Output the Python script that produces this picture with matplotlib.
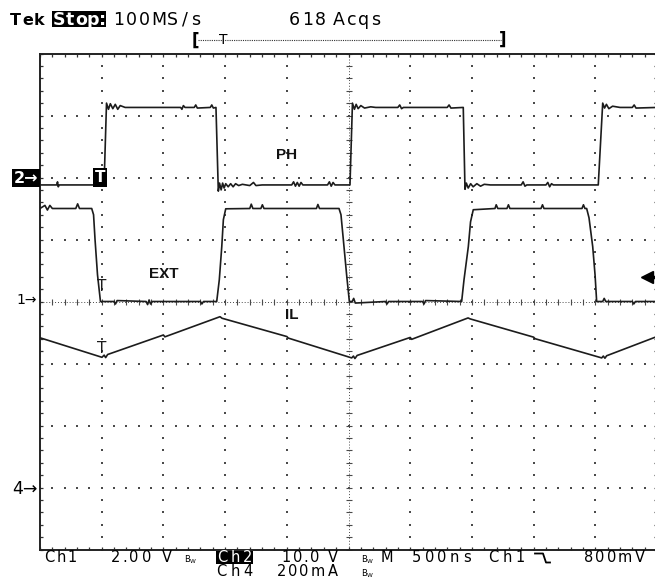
import numpy as np
import matplotlib
matplotlib.use("Agg")
import matplotlib.pyplot as plt
from matplotlib import font_manager
from matplotlib.ft2font import FT2Font
from matplotlib.lines import Line2D
from matplotlib.patches import Rectangle

W, H = 655, 586

# horizontal: 500 ns/div, 10 divisions; vertical: 8 divisions
TIME_PER_DIV = 500
CH1_SCALE, CH1_POS = 2.0, 0.0     # EXT, V/div, ground marker (div)
CH2_SCALE, CH2_POS = 10.0, 2.0    # PH
CH4_SCALE, CH4_POS = 0.2, -3.0    # IL, A/div
TRIG_TIME = 484                   # ns from left edge of screen
TRIG_LEVEL = 0.8                  # V on Ch1

# switch node (Ch2)
ph_t = [0, 135, 142, 148, 156, 519, 539, 555, 570, 590, 610, 630, 650, 690,
        1140, 1150, 1162, 1175, 1250, 1262, 1275, 1380, 1392, 1405, 1426,
        1445, 1455, 1468, 1480, 1492, 1505, 1525, 1545, 1565, 1585, 1610, 1640,
        1700, 1730, 1750, 1800, 2040, 2055, 2070, 2085, 2100, 2115, 2130,
        2330, 2345, 2360, 2375, 2390, 2512,
        2532, 2548, 2562, 2578, 2600, 2630, 2680, 2720, 2900, 2915, 2930, 2945,
        3300, 3315, 3330, 3430,
        3444, 3455, 3470, 3490, 3510, 3540, 3570, 3600, 3650, 3900, 3915, 3930,
        3945, 4100, 4115, 4130, 4145, 4160, 4524,
        4560, 4575, 4590, 4610, 4640, 4700, 4800, 4815, 4830, 5000]
ph_v = [-1.2, -1.2, -0.7, -1.5, -1.2, -1.2, 12.0, 11.0, 11.9, 11.1, 11.8, 11.0, 11.6, 11.3,
        11.3, 11.0, 11.6, 11.3, 11.3, 11.7, 11.2, 11.3, 11.7, 11.2, 11.3,
        -2.2, -0.9, -2.0, -0.9, -1.7, -1.0, -1.5, -1.0, -1.5, -1.0, -1.3, -1.1,
        -1.3, -0.8, -1.3, -1.2, -1.2, -0.7, -1.4, -0.8, -1.4, -0.8, -1.2,
        -1.2, -0.7, -1.4, -0.8, -1.2, -1.2,
        12.0, 11.0, 11.8, 11.1, 11.6, 11.2, 11.4, 11.3, 11.3, 11.7, 11.1, 11.3,
        11.3, 11.7, 11.2, 11.3,
        -1.9, -0.9, -1.7, -1.0, -1.5, -1.0, -1.4, -1.1, -1.2, -1.2, -0.7, -1.4,
        -1.2, -1.2, -0.8, -1.5, -1.0, -1.2, -1.2,
        12.0, 11.2, 11.8, 11.1, 11.5, 11.3, 11.3, 11.7, 11.2, 11.3]

# external gate drive (Ch1)
ext_t = [0, 40, 60, 80, 100, 290, 305, 320, 419, 434, 446, 466, 490,
         600, 612, 625, 860, 872, 884, 896, 910, 1300, 1312, 1325,
         1432, 1453, 1473, 1486, 1505, 1700, 1712, 1725, 1790, 1802, 1815,
         2240, 2252, 2265, 2423, 2439, 2458, 2486, 2507,
         2530, 2542, 2555, 2800, 2812, 2825, 3100, 3112, 3125,
         3417, 3436, 3471, 3489, 3511, 3687, 3697, 3710, 3784, 3796, 3808,
         4060, 4072, 4084, 4392, 4404, 4416,
         4430, 4449, 4479, 4498, 4511, 4560, 4572, 4585, 4800, 4812, 4825, 5000]
ext_v = [3.0, 3.1, 2.95, 3.1, 3.0, 3.0, 3.15, 3.0, 3.0, 2.8, 2.0, 0.86, 0.0,
         0.0, -0.08, 0.03, 0.0, -0.1, 0.05, -0.08, 0.0, 0.0, -0.08, 0.0,
         0.0, 0.70, 1.77, 2.64, 2.99, 3.0, 3.14, 3.0, 3.0, 3.12, 3.0,
         3.0, 3.13, 3.0, 3.0, 2.8, 2.0, 0.81, 0.0,
         0.0, 0.1, -0.05, 0.0, -0.08, 0.0, 0.0, -0.08, 0.03,
         0.0, 0.70, 1.77, 2.57, 2.96, 3.0, 3.12, 3.0, 3.0, 3.12, 3.0,
         3.0, 3.12, 3.0, 3.0, 3.12, 3.0,
         3.0, 2.7, 1.77, 0.86, 0.0, 0.0, 0.1, 0.0, 0.0, -0.08, 0.0, 0.0]

# inductor current (Ch4)
il_t = [0, 502, 520, 532, 548, 1000, 1012, 1459, 1475, 2000, 2012,
        2526, 2540, 2552, 2570, 3000, 3012, 3469, 3485, 4000, 4012,
        4552, 4565, 4578, 4592, 5000]
il_a = [0.483, 0.420, 0.427, 0.419, 0.429, 0.492, 0.486, 0.551, 0.546, 0.487, 0.482,
        0.418, 0.424, 0.416, 0.426, 0.484, 0.478, 0.547, 0.544, 0.485, 0.480,
        0.418, 0.424, 0.417, 0.425, 0.487]

INK = "#1c1c1c"
GRID = "#4a4a4a"


def to_div(values, scale, pos):
    return pos + np.asarray(values) / scale


def fy(y):
    return 1 - y / H


fig = plt.figure(figsize=(W / 100, H / 100), dpi=100)
ax = fig.add_axes([40 / W, fy(549.5), 617 / W, 496 / H])
ax.set_xlim(0, 10 * TIME_PER_DIV)
ax.set_ylim(-4, 4)

for side in ax.spines.values():
    side.set_linewidth(1.4)
    side.set_color("#222222")

# graticule: tick marks every 0.2 div on the frame
minor_x = np.arange(0, 10.001, 0.2) * TIME_PER_DIV
minor_y = np.arange(-4, 4.001, 0.2)
ax.set_xticks(minor_x)
ax.set_yticks(minor_y)
ax.tick_params(direction="in", length=2.5, width=0.9, color="#333333",
               top=True, right=True, labelbottom=False, labelleft=False)

# dotted division lines
gx, gy = [], []
for d in range(1, 10):
    if d == 5:
        continue
    gx += [d * TIME_PER_DIV] * len(minor_y)
    gy += list(minor_y)
for d in range(-3, 4):
    if d == 0:
        continue
    gx += list(minor_x)
    gy += [d] * len(minor_x)
ax.scatter(gx, gy, s=1.8, marker="s", color=GRID, linewidths=0, zorder=1)

# centre cross with finer dots and tick marks
cx = 5 * TIME_PER_DIV
ax.axvline(cx, ls=(0, (1, 2)), lw=0.7, color=GRID, zorder=1)
ax.axhline(0, ls=(0, (1, 2)), lw=0.7, color=GRID, zorder=1)
ax.plot([cx] * len(minor_y), minor_y, ls="none", marker="_", ms=5, mew=0.8, color=GRID)
ax.plot(minor_x, [0] * len(minor_x), ls="none", marker="|", ms=5, mew=0.8, color=GRID)

# traces
ax.plot(ph_t, to_div(ph_v, CH2_SCALE, CH2_POS), color=INK, lw=1.2, zorder=3)
ax.plot(ext_t, to_div(ext_v, CH1_SCALE, CH1_POS), color=INK, lw=1.2, zorder=3)
ax.plot(il_t, to_div(il_a, CH4_SCALE, CH4_POS), color=INK, lw=1.2, zorder=3)

lbl = dict(family="Liberation Sans", weight="bold", fontsize=11, ha="center",
           va="center", color="#111111")
ax.text(2002, 2.36, "PH", **lbl)
ax.text(1005, 0.44, "EXT", **lbl)
ax.text(2040, -0.21, "IL", **lbl)

# trigger point on Ch2 and cursors on the other traces
ax.text(TRIG_TIME, CH2_POS, "T", color="white", fontsize=11, weight="bold",
        ha="center", va="center", zorder=4,
        bbox=dict(boxstyle="square,pad=0.12", fc="black", ec="none"))
ax.text(TRIG_TIME + 12, 0.237, "T", color=INK, fontsize=11, ha="center", va="center", zorder=4)
ax.text(TRIG_TIME + 15, -0.763, "T", color=INK, fontsize=11, ha="center", va="center", zorder=4)

# trigger level indicator
trig_div = CH1_POS + TRIG_LEVEL / CH1_SCALE
ax.plot([4930, 4995], [trig_div, trig_div], color="black", lw=2.5, solid_capstyle="butt")
ax.plot([4915], [trig_div], marker="<", ms=8, color="black", ls="none")

_faces = {}


def ink_metrics(ch, size, weight):
    # left bearing and ink width of one glyph, in pixels at 100 dpi
    if weight not in _faces:
        path = font_manager.findfont(font_manager.FontProperties(family="DejaVu Sans", weight=weight))
        _faces[weight] = FT2Font(path)
    face = _faces[weight]
    face.set_size(size, 100)
    g = face.load_char(ord(ch))
    return g.horiBearingX / 64, g.width / 64


def readout(s, x0, x1, y, size, color="black", weight="normal"):
    # spread the glyphs of s with equal ink gaps between pixel columns x0..x1
    metrics = [ink_metrics(ch, size, weight) if ch != " " else (0.0, 1.5) for ch in s]
    gap = (x1 - x0 - sum(w for _, w in metrics)) / max(len(s) - 1, 1)
    x = x0
    for ch, (lsb, w) in zip(s, metrics):
        if ch != " ":
            fig.text((x - lsb) / W, fy(y), ch, fontsize=size, color=color,
                     fontweight=weight, ha="left", va="baseline")
        x += w + gap


def box(x0, y0, x1, y1):
    fig.add_artist(Rectangle((x0 / W, fy(y1)), (x1 - x0) / W, (y1 - y0) / H,
                             transform=fig.transFigure, fc="black", ec="none"))


# status line
TS = 12.5
readout("Tek", 10, 45, 25, 11.5, weight="bold")
box(51.7, 11, 106, 27.3)
readout("Stop:", 54, 104, 25, TS, color="white", weight="bold")
readout("100MS/s", 115, 199, 25, TS)
readout("618", 290, 325, 25, TS)
readout("Acqs", 333, 379, 25, TS)

# record position bar
fig.add_artist(Line2D([198 / W, 501 / W], [fy(39.5)] * 2, ls=(0, (1, 1)),
                      lw=0.8, color="#333333"))
fig.text(195 / W, fy(41), "[", fontsize=12, weight="bold", ha="center", va="center")
fig.text(503 / W, fy(40), "]", fontsize=12, weight="bold", ha="center", va="center")
fig.text(223.5 / W, fy(40.5), "T", fontsize=10, ha="center", va="center")

# channel ground markers
fig.text(26 / W, fy(178), "2\u2192", color="white", fontsize=11.5, weight="bold",
         ha="center", va="center",
         bbox=dict(boxstyle="square,pad=0.12", fc="black", ec="none"))
fig.text(27 / W, fy(299.5), "1\u2192", fontsize=10, ha="center", va="center")
fig.text(25 / W, fy(488.5), "4\u2192", fontsize=12.5, ha="center", va="center")

# settings readout
RS = 10.5
readout("Ch1", 45, 75, 562, RS)
readout("2.00 V", 112, 172, 562, RS)
fig.text(184 / W, fy(562), r"$\mathregular{B_W}$", fontsize=6, va="baseline")
box(216, 550.5, 253, 564)
readout("Ch2", 218, 251, 562, RS, color="white")
readout("10.0 V", 283, 338, 562, RS)
fig.text(361 / W, fy(562), r"$\mathregular{B_W}$", fontsize=6, va="baseline")
readout("M", 382, 395, 562, RS)
readout("500ns", 413, 470, 562, RS)
readout("Ch1", 489, 523, 562, RS)
fig.add_artist(Line2D(np.array([535, 543, 546, 550]) / W,
                      [fy(553.5), fy(553.5), fy(562.5), fy(562.5)],
                      lw=1.3, color="black"))
readout("800mV", 585, 645, 562, RS)
readout("Ch4", 217, 252, 576, RS)
readout("200mA", 278, 338, 576, RS)
fig.text(361 / W, fy(576), r"$\mathregular{B_W}$", fontsize=6, va="baseline")

fig.savefig("out.png", dpi=100)
